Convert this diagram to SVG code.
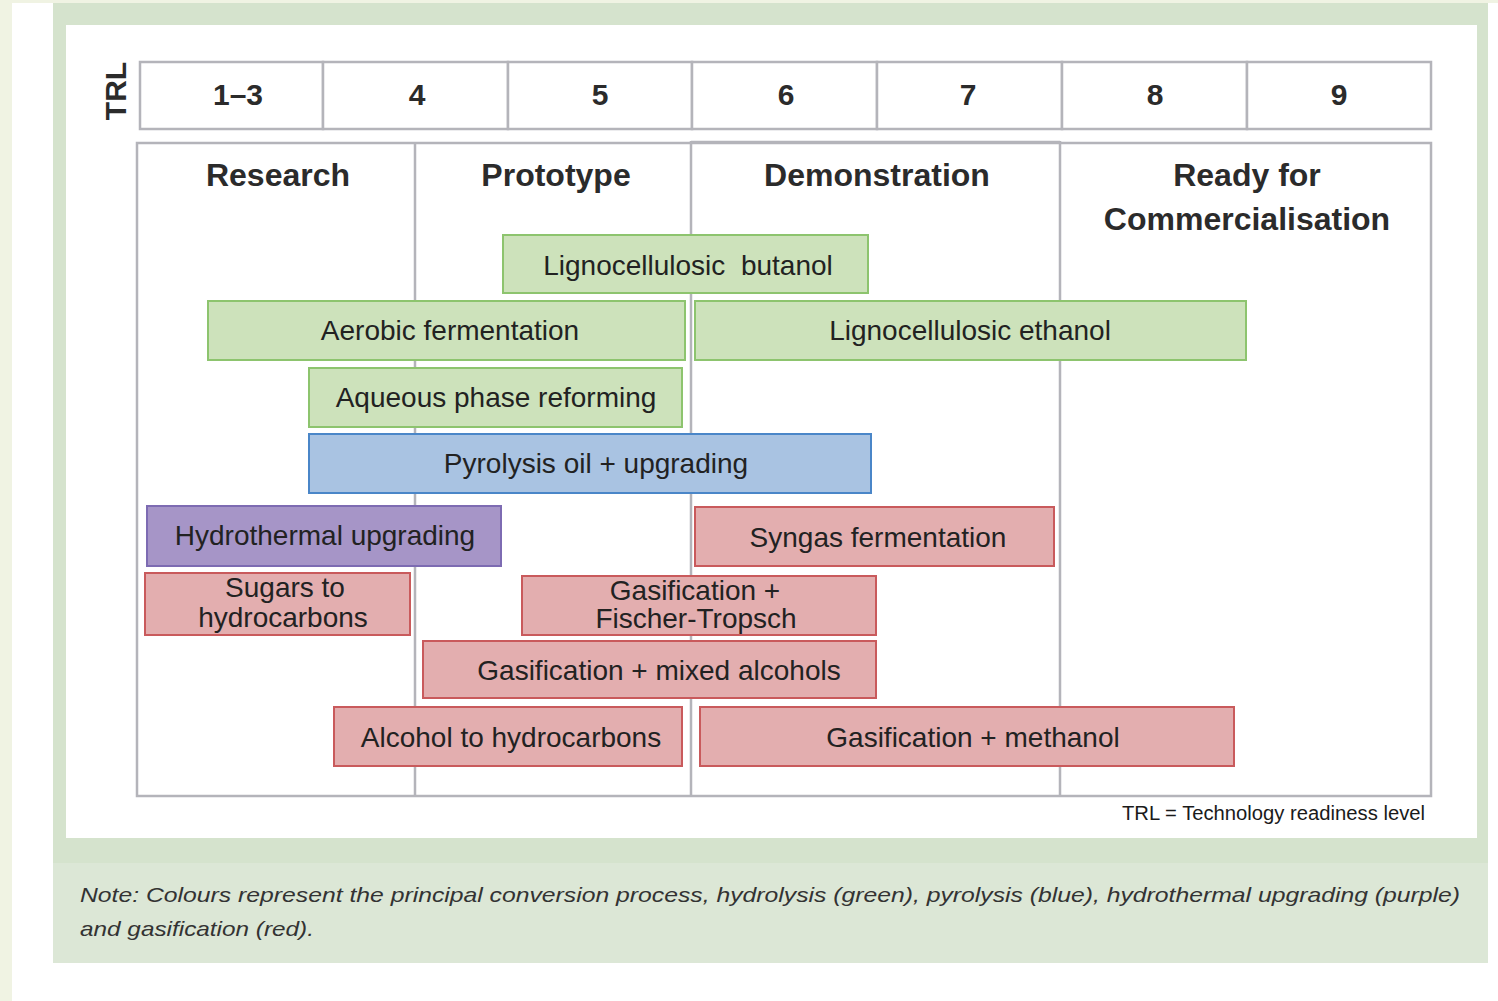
<svg xmlns="http://www.w3.org/2000/svg" width="1498" height="1001" viewBox="0 0 1498 1001">
  <style>
    .cell { fill: #ffffff; stroke: #b4b4ba; stroke-width: 2.5; }
    .grid { fill: none; stroke: #b4b4ba; stroke-width: 2.5; }
    .num { font-family: "Liberation Sans", Arial, sans-serif; font-weight: bold; font-size: 30px; fill: #2b2b2b; text-anchor: middle; }
    .phase { font-family: "Liberation Sans", Arial, sans-serif; font-weight: bold; font-size: 32px; fill: #2b2b2b; text-anchor: middle; }
    .bar text { font-family: "Liberation Sans", Arial, sans-serif; font-size: 28px; fill: #222222; text-anchor: middle; }
    .green rect { fill: #cde2bb; stroke: #8dc46e; stroke-width: 2; }
    .blue rect { fill: #a9c3e2; stroke: #4a86c8; stroke-width: 2; }
    .purple rect { fill: #a695c7; stroke: #7d6bb2; stroke-width: 2; }
    .red rect { fill: #e3aeaf; stroke: #c95a5c; stroke-width: 2; }
    .note { font-family: "Liberation Sans", Arial, sans-serif; font-style: italic; font-size: 21px; fill: #333333; }
  </style>

  <!-- page background and framing panel -->
  <rect x="0" y="0" width="1498" height="1001" fill="#ffffff"/>
  <rect x="0" y="0" width="1498" height="3" fill="#f0f3e3"/>
  <rect x="0" y="0" width="12" height="1001" fill="#f0f3e3"/>
  <rect x="53" y="3" width="1435" height="860" fill="#d5e3cd"/>
  <rect x="53" y="863" width="1435" height="100" fill="#dce7d6"/>
  <rect x="66" y="25" width="1411" height="813" fill="#ffffff"/>

  <!-- TRL scale row -->
  <g id="trl-scale">
    <text class="num" transform="translate(126,91) rotate(-90)">TRL</text>
    <rect class="cell" x="140" y="62" width="183" height="67"/>
    <rect class="cell" x="323" y="62" width="185" height="67"/>
    <rect class="cell" x="508" y="62" width="184" height="67"/>
    <rect class="cell" x="692" y="62" width="185" height="67"/>
    <rect class="cell" x="877" y="62" width="185" height="67"/>
    <rect class="cell" x="1062" y="62" width="185" height="67"/>
    <rect class="cell" x="1247" y="62" width="184" height="67"/>
    <text class="num" x="238" y="105">1–3</text>
    <text class="num" x="417" y="105">4</text>
    <text class="num" x="600" y="105">5</text>
    <text class="num" x="786" y="105">6</text>
    <text class="num" x="968" y="105">7</text>
    <text class="num" x="1155" y="105">8</text>
    <text class="num" x="1339" y="105">9</text>
  </g>

  <!-- development phase columns -->
  <g id="phases">
    <rect class="grid" x="137" y="143" width="1294" height="653"/>
    <line class="grid" x1="415" y1="143" x2="415" y2="796"/>
    <line class="grid" x1="691" y1="141" x2="691" y2="796" stroke-width="3.5"/>
    <line class="grid" x1="1060" y1="141" x2="1060" y2="796" stroke-width="3.5"/>
    <line class="grid" x1="691" y1="142" x2="1060" y2="142" stroke-width="3.5"/>
    <text class="phase" x="278" y="186">Research</text>
    <text class="phase" x="556" y="186">Prototype</text>
    <text class="phase" x="877" y="186">Demonstration</text>
    <text class="phase" x="1247" y="186">Ready for</text>
    <text class="phase" x="1247" y="230">Commercialisation</text>
  </g>

  <!-- technology bars -->
  <g id="lignocellulosic-butanol" class="bar green">
    <rect x="503" y="235" width="365" height="58"/>
    <text x="688" y="275" xml:space="preserve">Lignocellulosic  butanol</text>
  </g>
  <g id="aerobic-fermentation" class="bar green">
    <rect x="208" y="301" width="477" height="59"/>
    <text x="450" y="340">Aerobic fermentation</text>
  </g>
  <g id="lignocellulosic-ethanol" class="bar green">
    <rect x="695" y="301" width="551" height="59"/>
    <text x="970" y="340">Lignocellulosic ethanol</text>
  </g>
  <g id="aqueous-phase-reforming" class="bar green">
    <rect x="309" y="368" width="373" height="59"/>
    <text x="496" y="407">Aqueous phase reforming</text>
  </g>
  <g id="pyrolysis-oil" class="bar blue">
    <rect x="309" y="434" width="562" height="59"/>
    <text x="596" y="473">Pyrolysis oil + upgrading</text>
  </g>
  <g id="hydrothermal-upgrading" class="bar purple">
    <rect x="147" y="506" width="354" height="60"/>
    <text x="325" y="545">Hydrothermal upgrading</text>
  </g>
  <g id="syngas-fermentation" class="bar red">
    <rect x="695" y="507" width="359" height="59"/>
    <text x="878" y="547">Syngas fermentation</text>
  </g>
  <g id="sugars-to-hydrocarbons" class="bar red">
    <rect x="145" y="573" width="265" height="62"/>
    <text x="285" y="597">Sugars to</text>
    <text x="283" y="627">hydrocarbons</text>
  </g>
  <g id="gasification-ft" class="bar red">
    <rect x="522" y="576" width="354" height="59"/>
    <text x="695" y="600">Gasification +</text>
    <text x="696" y="628">Fischer-Tropsch</text>
  </g>
  <g id="gasification-mixed-alcohols" class="bar red">
    <rect x="423" y="641" width="453" height="57"/>
    <text x="659" y="680">Gasification + mixed alcohols</text>
  </g>
  <g id="alcohol-to-hydrocarbons" class="bar red">
    <rect x="334" y="707" width="348" height="59"/>
    <text x="511" y="747">Alcohol to hydrocarbons</text>
  </g>
  <g id="gasification-methanol" class="bar red">
    <rect x="700" y="707" width="534" height="59"/>
    <text x="973" y="747">Gasification + methanol</text>
  </g>

  <!-- no connectors in this chart -->
  <g id="connectors"/>

  <!-- legend and note -->
  <text x="1425" y="820" text-anchor="end" font-family="Liberation Sans, Arial, sans-serif" font-size="20" fill="#1a1a1a" textLength="303" lengthAdjust="spacingAndGlyphs">TRL = Technology readiness level</text>
  <text class="note" x="80" y="902" textLength="1380" lengthAdjust="spacingAndGlyphs">Note: Colours represent the principal conversion process, hydrolysis (green), pyrolysis (blue), hydrothermal upgrading (purple)</text>
  <text class="note" x="80" y="936" textLength="234" lengthAdjust="spacingAndGlyphs">and gasification (red).</text>
</svg>
